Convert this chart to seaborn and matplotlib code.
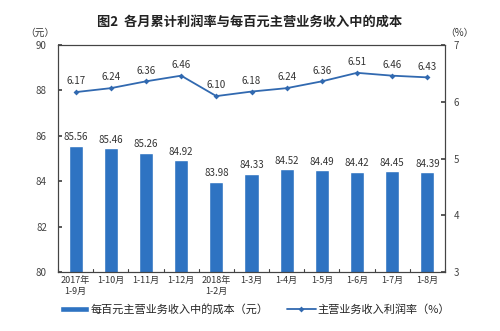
import matplotlib
matplotlib.use("Agg")
import matplotlib.pyplot as plt
import seaborn as sns
import pandas as pd
import numpy as np

categories = ["2017年\n1-9月", "1-10月", "1-11月", "1-12月", "2018年\n1-2月", "1-3月",
              "1-4月", "1-5月", "1-6月", "1-7月", "1-8月"]
cost = [85.56, 85.46, 85.26, 84.92, 83.98, 84.33, 84.52, 84.49, 84.42, 84.45, 84.39]
margin = [6.17, 6.24, 6.36, 6.46, 6.10, 6.18, 6.24, 6.36, 6.51, 6.46, 6.43]

sns.set_theme(style="white")
plt.rcParams['font.family'] = ['Noto Sans CJK SC', 'DejaVu Sans']

df = pd.DataFrame({"cat": categories, "cost": cost, "margin": margin})

fig = plt.figure(figsize=(5, 3.31), dpi=100)
ax = fig.add_axes([0.116, 0.178, 0.774, 0.686])
bar_color = "#2E73C2"
line_color = "#3169B0"
sns.barplot(data=df, x="cat", y="cost", color=bar_color, width=0.4, ax=ax,
            saturation=1, label="每百元主营业务收入中的成本（元）")
ax.set_ylim(80, 90)
ax.set_yticks([80, 82, 84, 86, 88, 90])
ax.set_xlabel("")
ax.set_ylabel("")
for i, v in enumerate(cost):
    ax.text(i, v + 0.15, f"{v:.2f}", ha="center", va="bottom", fontsize=7, color="#333333")

ax2 = ax.twinx()
x = np.arange(len(categories))
sns.lineplot(x=x, y=margin, ax=ax2, color=line_color, marker="D", markersize=3,
             linewidth=1.3, markeredgewidth=0, label="主营业务收入利润率（%）")
ax2.set_ylim(3, 7)
ax2.set_yticks([3, 4, 5, 6, 7])
for i, v in enumerate(margin):
    ax2.text(i, v + 0.1, f"{v:.2f}", ha="center", va="bottom", fontsize=7, color="#333333")

for a in (ax, ax2):
    for s in a.spines.values():
        s.set_color("#444444")
        s.set_linewidth(0.8)
ax.tick_params(axis="y", which="both", direction="in", length=3, labelsize=7, colors="#444444", left=True)
ax2.tick_params(axis="y", which="both", direction="in", length=3, labelsize=7, colors="#444444", right=True, pad=6)
ax.tick_params(axis="x", labelsize=6.5, colors="#333333", length=0, pad=3)
ax.set_xticks(x)
ax.set_xticklabels(categories)
ax.set_xlim(-0.5, len(categories) - 0.5)
for b in np.arange(len(categories) + 1) - 0.5:
    ax.plot([b, b], [80, 80.12], color="#444444", lw=0.8, clip_on=False)
ax.tick_params(axis="y", pad=8)

if ax2.get_legend():
    ax2.get_legend().remove()
if ax.get_legend():
    ax.get_legend().remove()
h1, l1 = ax.get_legend_handles_labels()
h2, l2 = ax2.get_legend_handles_labels()
fig.legend(h1 + h2, l1 + l2, loc="center", bbox_to_anchor=(0.51, 0.065), ncol=2,
           frameon=False, fontsize=8, handlelength=2.6, handleheight=0.5, columnspacing=1.6,
           handletextpad=0.2)

fig.text(0.5, 0.935, "图2  各月累计利润率与每百元主营业务收入中的成本", ha="center", va="center",
         fontsize=9.5, fontweight="bold", color="#222222")
fig.text(0.08, 0.9, "（元）", ha="center", va="center", fontsize=7, color="#333333")
fig.text(0.918, 0.9, "（%）", ha="center", va="center", fontsize=7, color="#333333")

fig.savefig("out.png", dpi=100)
